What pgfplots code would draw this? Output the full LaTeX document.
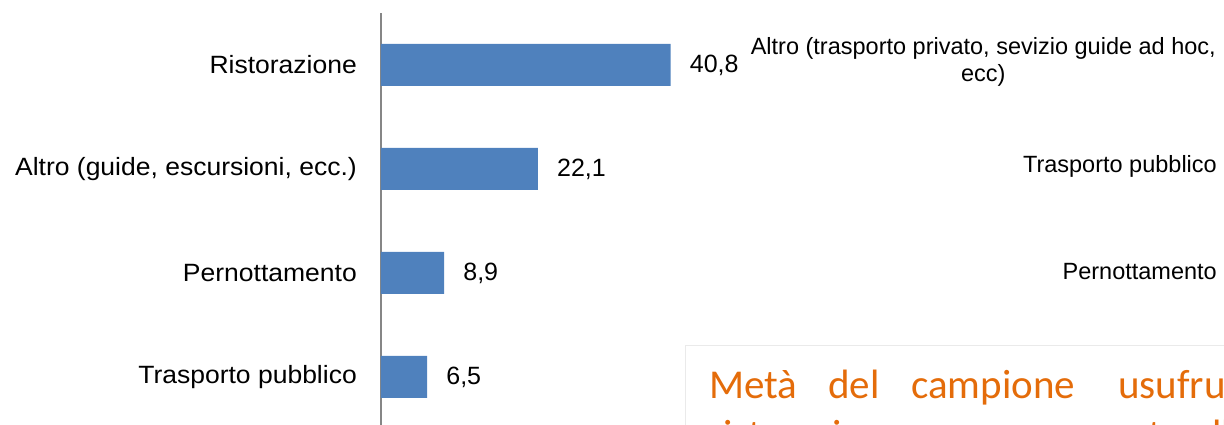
\documentclass[border=0pt]{standalone}
\usepackage{pgfplots}
\pgfplotsset{compat=1.18}
\usepackage{fontspec}
\setmainfont{Liberation Sans}
\newfontfamily\lsw{Liberation Sans}[FakeStretch=1.06]
\newfontfamily\calib{Carlito}
\definecolor{barblue}{HTML}{4F81BD}
\definecolor{axgray}{HTML}{868686}
\definecolor{orangetxt}{HTML}{E46C0A}
\definecolor{boxgray}{HTML}{EAEAEA}
\begin{document}
\begin{tikzpicture}
\useasboundingbox (0pt,0pt) rectangle (1224pt,425pt);
\clip (0pt,0pt) rectangle (1224pt,425pt);
\begin{axis}[
  at={(381pt,-4pt)}, anchor=south west,
  scale only axis, width=710pt, height=416pt,
  xmin=0, xmax=100, ymin=-0.5, ymax=3.5,
  axis x line=none, axis y line=left,
  y axis line style={draw=axgray, line width=2pt, -},
  xbar, bar width=42pt,
  ytick={0,1,2,3},
  yticklabels={Trasporto pubblico, Pernottamento, {Altro (guide, escursioni, ecc.)}, Ristorazione},
  major tick length=0pt,
  yticklabel style={font=\lsw\fontsize{25}{30}\selectfont, inner sep=0pt, anchor=east, xshift=-24pt},
  point meta=x,
  /pgf/number format/assume math mode=true,
  nodes near coords={\pgfmathprintnumber[use comma,fixed,fixed zerofill,precision=1,assume math mode=true]{\pgfplotspointmeta}},
  every node near coord/.append style={font=\fontsize{25}{30}\selectfont, inner sep=0pt, anchor=west, xshift=19pt, text=black},
  clip=false,
]
\addplot[fill=barblue, draw=none] coordinates {(6.5,0) (8.9,1) (22.1,2) (40.8,3)};
\end{axis}
\node[anchor=east, align=center, font=\fontsize{23.5}{27}\selectfont, inner sep=0pt] at (1216pt,363.5pt) {Altro (trasporto privato, sevizio guide ad hoc,\\ecc)};
\node[anchor=east, font=\fontsize{23.5}{27}\selectfont, inner sep=0pt] at (1217pt,259pt) {Trasporto pubblico};
\node[anchor=east, font=\fontsize{23.5}{27}\selectfont, inner sep=0pt] at (1217pt,153pt) {Pernottamento};
\draw[boxgray, line width=1pt] (1240pt,79pt) -- (685pt,79pt) -- (685pt,-20pt);
\begin{scope}[every node/.style={anchor=base west, inner sep=0pt, text=orangetxt, font=\calib\fontsize{41}{50}\selectfont}]
\node at (709pt,26pt) {Metà};
\node at (828pt,26pt) {del};
\node at (911pt,26pt) {campione};
\node at (1118pt,26pt) {usufruisce};
\node at (709pt,-24pt) {ristorazione};
\node at (1035pt,-24pt) {presente};
\node at (1170pt,-24pt) {nella};
\end{scope}
\end{tikzpicture}
\end{document}
